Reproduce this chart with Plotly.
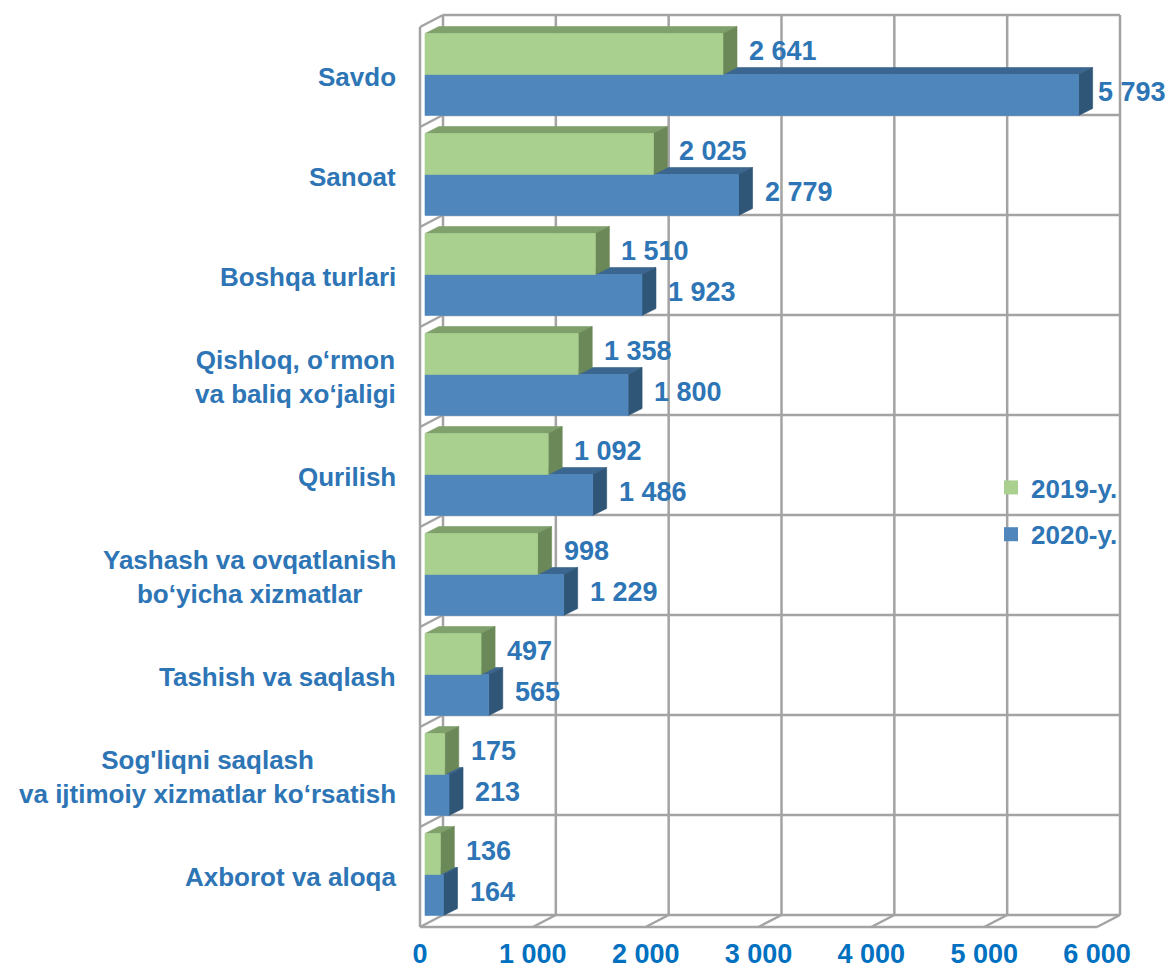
import plotly.graph_objects as go

# ---- data -------------------------------------------------------------
CATEGORIES = [
    "Axborot va aloqa",
    "Sog'liqni saqlash<br>va ijtimoiy xizmatlar ko‘rsatish",
    "Tashish va saqlash",
    "Yashash va ovqatlanish<br>bo‘yicha xizmatlar",
    "Qurilish",
    "Qishloq, o‘rmon<br>va baliq xo‘jaligi",
    "Boshqa turlari",
    "Sanoat",
    "Savdo",
]
VALUES_2019 = [136, 175, 497, 998, 1092, 1358, 1510, 2025, 2641]
VALUES_2020 = [164, 213, 565, 1229, 1486, 1800, 1923, 2779, 5793]
SERIES_NAMES = ["2019-y.", "2020-y."]
X_TICKS = [0, 1000, 2000, 3000, 4000, 5000, 6000]
X_TICK_LABELS = ["0", "1 000", "2 000", "3 000", "4 000", "5 000", "6 000"]

# ---- styling ----------------------------------------------------------
FONT = "Liberation Sans, Arial, sans-serif"
TEXT_BLUE = "#2E75B6"
TICK_BLUE = "#0070C0"
GRID = "#A3A3A3"
GREEN = dict(front="#A9D08E", top="#7F9F6B", side="#6B8858")
BLUE = dict(front="#4F87BD", top="#3B6690", side="#2F5577")

W, H = 1168, 970
MARGIN_L, MARGIN_T = 416, 10
PLOT_W, PLOT_H = 707, 922
PX_X = 677 / 6000.0          # pixels per value unit
PX_Y = 100.0                 # pixels per category slot
ORIGIN_PX = (4, 5)           # front-plane origin inside the plot area (left, bottom)

# 3-D depth offsets, expressed in axis units
BACK_DX, BACK_DY = 23 / PX_X, 12 / PX_Y      # back wall / floor depth
BAR_X0, BAR_Y0 = 5 / PX_X, 0.025             # bar front plane
BAR_DX, BAR_DY = 14 / PX_X, 0.07             # bar thickness
BAR_H = 0.41
X_MAX = X_TICKS[-1]
N = len(CATEGORIES)


def seg_trace(segments, color, width=2.5):
    xs, ys = [], []
    for (x0, y0), (x1, y1) in segments:
        xs += [x0, x1, None]
        ys += [y0, y1, None]
    return go.Scatter(x=xs, y=ys, mode="lines", line=dict(color=color, width=width),
                      hoverinfo="skip", showlegend=False)


def poly_trace(polys, color):
    xs, ys = [], []
    for p in polys:
        for x, y in list(p) + [p[0]]:
            xs.append(x)
            ys.append(y)
        xs.append(None)
        ys.append(None)
    return go.Scatter(x=xs, y=ys, mode="lines", fill="toself", fillcolor=color,
                      line=dict(color=color, width=0.6), hoverinfo="skip", showlegend=False)


def bar_faces(values, offset_sign):
    """Front, top and side faces of one series' 3-D bars."""
    fronts, tops, sides = [], [], []
    for i, v in enumerate(values):
        c = i + 0.5 + BAR_Y0
        y0, y1 = (c, c + BAR_H) if offset_sign > 0 else (c - BAR_H, c)
        x0, x1 = BAR_X0, BAR_X0 + v
        fronts.append([(x0, y0), (x1, y0), (x1, y1), (x0, y1)])
        tops.append([(x0, y1), (x1, y1), (x1 + BAR_DX, y1 + BAR_DY), (x0 + BAR_DX, y1 + BAR_DY)])
        sides.append([(x1, y0), (x1 + BAR_DX, y0 + BAR_DY), (x1 + BAR_DX, y1 + BAR_DY), (x1, y1)])
    return fronts, tops, sides


fig = go.Figure()

# ---- walls, floor and gridlines ---------------------------------------
segs = []
top_y = float(N)
# back wall verticals
for t in X_TICKS:
    segs.append(((t + BACK_DX, BACK_DY), (t + BACK_DX, top_y + BACK_DY)))
# back wall horizontals (category boundaries + top)
for k in range(1, N + 1):
    segs.append(((BACK_DX, k + BACK_DY), (X_MAX + BACK_DX, k + BACK_DY)))
# left wall: front edge and diagonals
segs.append(((0, 0), (0, top_y)))
for k in range(1, N + 1):
    segs.append(((0, k), (BACK_DX, k + BACK_DY)))
# floor: front edge, back edge and diagonals
segs.append(((0, 0), (X_MAX, 0)))
segs.append(((BACK_DX, BACK_DY), (X_MAX + BACK_DX, BACK_DY)))
for t in X_TICKS:
    segs.append(((t, 0), (t + BACK_DX, BACK_DY)))
fig.add_trace(seg_trace(segs, GRID))

# ---- bars (2020 below, 2019 on top of it) ------------------------------
for values, sign, col in ((VALUES_2020, -1, BLUE), (VALUES_2019, 1, GREEN)):
    fronts, tops, sides = bar_faces(values, sign)
    fig.add_trace(poly_trace(tops, col["top"]))
    fig.add_trace(poly_trace(sides, col["side"]))
    fig.add_trace(poly_trace(fronts, col["front"]))

# legend entries
for name, col, grp in ((SERIES_NAMES[0], GREEN, "a"), (SERIES_NAMES[1], BLUE, "b")):
    fig.add_trace(go.Scatter(x=[None], y=[None], mode="markers", name=name, legendgroup=grp,
                             marker=dict(symbol="square", size=14, color=col["front"])))

# ---- annotations: value labels and category labels --------------------
ann = []
for values, sign in ((VALUES_2019, 1), (VALUES_2020, -1)):
    for i, v in enumerate(values):
        c = i + 0.5 + BAR_Y0 + sign * BAR_H / 2 + BAR_DY / 2
        # labels near the right edge hug their bar so they stay inside the page
        shift = 3 if v > 0.9 * X_MAX else 10
        ann.append(dict(x=BAR_X0 + v + BAR_DX, y=c, xref="x", yref="y",
                        text=f"{v:,}".replace(",", " "), showarrow=False,
                        xanchor="left", yanchor="middle", xshift=shift,
                        font=dict(family=FONT, size=27, color=TEXT_BLUE, weight="bold")))
label_right_px = 398
for i, cat in enumerate(CATEGORIES):
    ann.append(dict(x=(label_right_px - MARGIN_L) / PLOT_W, y=i + 0.5, xref="paper", yref="y",
                    text=f"<b>{cat}</b>", showarrow=False, xanchor="right", yanchor="middle",
                    align="center",
                    font=dict(family=FONT, size=26, color=TEXT_BLUE)))

x_lo = -ORIGIN_PX[0] / PX_X
y_lo = -ORIGIN_PX[1] / PX_Y

fig.update_layout(
    width=W, height=H,
    margin=dict(l=MARGIN_L, r=W - MARGIN_L - PLOT_W, t=MARGIN_T, b=H - MARGIN_T - PLOT_H,
                autoexpand=False),
    paper_bgcolor="white", plot_bgcolor="white",
    xaxis=dict(range=[x_lo, x_lo + PLOT_W / PX_X], tickvals=X_TICKS, ticktext=X_TICK_LABELS,
               showgrid=False, zeroline=False, showline=False, ticks="",
               tickfont=dict(family=FONT, size=27, color=TICK_BLUE, weight="bold"),
               ticklabelstandoff=3, fixedrange=True),
    yaxis=dict(range=[y_lo, y_lo + PLOT_H / PX_Y], visible=False, fixedrange=True),
    annotations=ann,
    showlegend=True,
    legend=dict(x=(991 - MARGIN_L) / PLOT_W, y=(H - MARGIN_T - 492) / PLOT_H,
                xanchor="left", yanchor="top", bgcolor="rgba(0,0,0,0)",
                font=dict(family=FONT, size=26, color=TEXT_BLUE, weight="bold"),
                tracegroupgap=10, itemclick=False, itemdoubleclick=False),
)

fig.write_html("out.html")
